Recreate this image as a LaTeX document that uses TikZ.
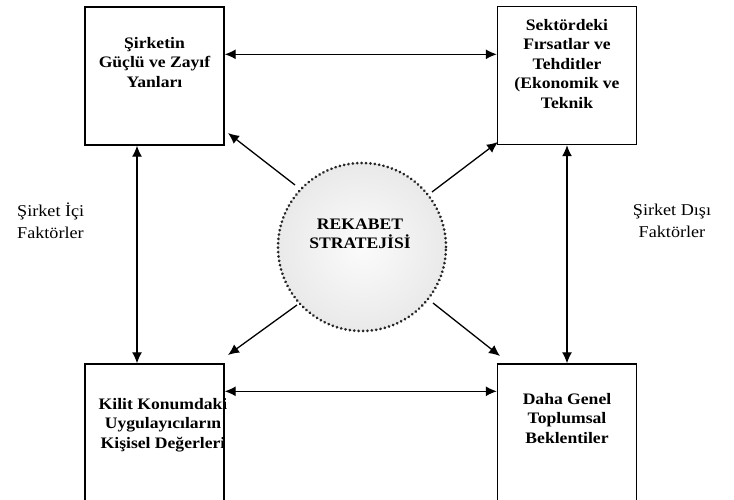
\documentclass[tikz,border=0pt]{standalone}
\usepackage{fontspec}
\setmainfont{Liberation Serif}
\newfontfamily\widefont[FakeStretch=1.1]{Liberation Serif}
\usetikzlibrary{arrows.meta,calc}
\begin{document}
\begin{tikzpicture}[x=1pt,y=-1pt,
  box/.style={draw,line width=1.4pt,minimum width=139pt,minimum height=138pt,inner sep=0pt},
  boxtext/.style={align=center,font=\widefont\bfseries\fontsize{16}{19.5}\selectfont,anchor=north,inner sep=0pt},
  side/.style={align=left,font=\widefont\fontsize{16.5}{22.5}\selectfont,inner sep=0pt},
  arr/.style={line width=1.3pt,-{Latex[length=11pt,width=10pt]}},
  darr/.style={line width=1.3pt,{Latex[length=11pt,width=10pt]}-{Latex[length=11pt,width=10pt]}}]
\useasboundingbox[fill=white] (0,0) rectangle (734,500);
% boxes
\node[box] (tl) at (154.5,76) {};
\node[box] (tr) at (567,75.5) {};
\node[box] (bl) at (154.5,433) {};
\node[box] (br) at (567,433) {};
% box texts
\node[boxtext] (tlt) at (154.5,37) {Şirketin\\Güçlü ve Zayıf\\Yanları};
\node[boxtext] (trt) at (567,19) {Sektördeki\\Fırsatlar ve\\Tehditler\\(Ekonomik ve\\Teknik};
\node[boxtext] (blt) at (163,398) {Kilit Konumdaki\\Uygulayıcıların\\Kişisel Değerleri};
\node[boxtext] (brt) at (567,393) {Daha Genel\\Toplumsal\\Beklentiler};
% circle
\node[circle,minimum size=168pt,inner sep=0pt,inner color=gray!3,outer color=gray!17,
  draw=black!85,line width=3pt,dash pattern=on 0.01pt off 4.4pt,line cap=round] (c) at (362,247) {};
\node[align=center,font=\widefont\bfseries\fontsize{16}{19.5}\selectfont,inner sep=0pt] (ct) at (360,234) {REKABET\\STRATEJİSİ};
% side labels
\node[side,anchor=west] (sl) at (17,221) {Şirket İçi\\Faktörler};
\node[side,align=center] (sr) at (672,221) {Şirket Dışı\\Faktörler};
% coordinates
\coordinate (a1) at (295,185);
\coordinate (a1t) at (228,133);
\coordinate (a2) at (432,192);
\coordinate (a2t) at (498,142);
\coordinate (a3) at (297,305);
\coordinate (a3t) at (228,355);
\coordinate (a4) at (433,303);
\coordinate (a4t) at (500,356);
% horizontal and vertical double arrows
\draw[darr] ($(tl.north east)+(0,48)$) -- ($(tr.north west)+(0,48.5)$);
\draw[darr] ($(bl.north east)+(0,28)$) -- ($(br.north west)+(0,28)$);
\draw[darr] ($(tl.south)+(-17.5,0)$) -- ($(bl.north)+(-17.5,0)$);
\draw[darr] (tr.south) -- (br.north);
% diagonal arrows
\draw[arr] (a1) -- (a1t);
\draw[arr] (a2) -- (a2t);
\draw[arr] (a3) -- (a3t);
\draw[arr] (a4) -- (a4t);
\end{tikzpicture}
\end{document}
